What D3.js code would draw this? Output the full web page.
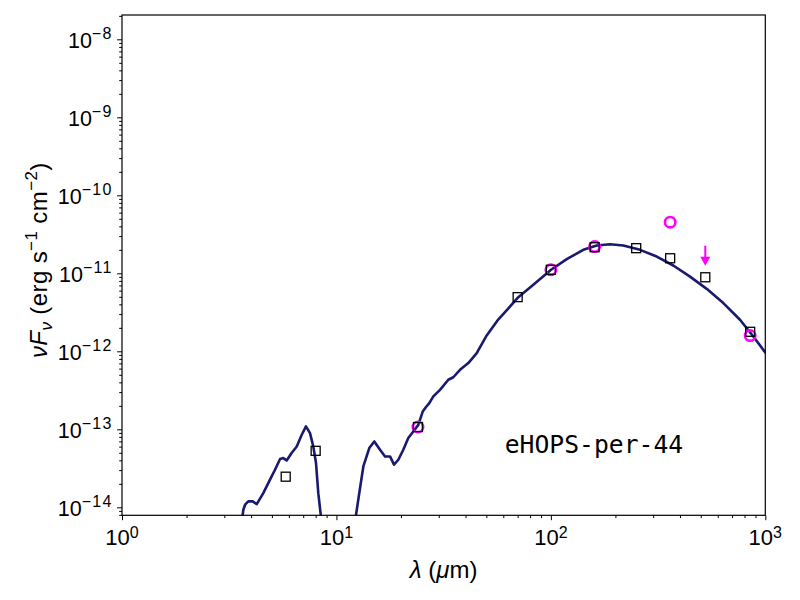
<!DOCTYPE html>
<html><head><meta charset="utf-8">
<script src="https://cdn.jsdelivr.net/npm/d3@7"></script>
<style>body{margin:0;background:#fff} svg{display:block}</style>
</head><body><svg id="c" width="800" height="600"></svg>
<script>
// ---- data ----
const modelWave = [3.53, 3.68, 3.75, 3.88, 4.07, 4.25, 4.56, 4.90, 5.17, 5.46, 5.65, 5.86, 6.18, 6.53, 6.89, 7.21, 7.53, 7.80, 8.03, 8.23, 8.45, 8.57,
  9.5, 11.0,
  12.14, 12.34, 12.78, 13.35, 14.23, 15.02, 15.97, 16.85, 17.78, 18.56, 19.44, 20.50, 21.63, 22.83, 24.09, 25.26, 26.17, 27.11, 28.30, 30.41,
  33.25, 35.08, 37.70, 41.21, 45.10, 50.21, 56.39, 62.78, 70.50, 82.83, 100.2, 118.6, 141.7, 163.6, 188.7, 217.7, 260.5, 311.6, 372.4,
  445.6, 533.1, 637.2, 762.1, 879.4, 1000, 1100];
const modelFlux = [3.8e-15, 9.3e-15, 1.08e-14, 1.19e-14, 1.19e-14, 1.10e-14, 1.52e-14, 2.26e-14, 3.03e-14, 4.16e-14, 4.28e-14, 3.99e-14, 4.97e-14,
  6.03e-14, 8.51e-14, 1.09e-13, 8.95e-14, 6.03e-14, 3.70e-14, 1.52e-14, 8.0e-15, 3.8e-15,
  1e-16, 1e-16,
  3.8e-15, 8.0e-15, 1.52e-14, 3.34e-14, 5.75e-14, 6.98e-14, 5.47e-14, 4.49e-14, 4.49e-14, 3.52e-14, 4.07e-14, 5.47e-14, 7.73e-14, 9.38e-14,
  1.14e-13, 1.69e-13, 1.93e-13, 2.17e-13, 2.64e-13, 3.21e-13, 4.32e-13, 4.65e-13, 5.80e-13, 7.06e-13, 9.48e-13, 1.60e-12, 2.49e-12, 3.45e-12,
  4.94e-12, 7.11e-12, 1.11e-11, 1.52e-11, 2.00e-11, 2.27e-11, 2.36e-11, 2.27e-11, 2.00e-11, 1.64e-11, 1.26e-11, 9.08e-12, 6.32e-12, 4.15e-12,
  2.54e-12, 1.55e-12, 9.66e-13, 7.5e-13];
const squareWave = [5.8, 8.0, 24, 70, 100, 160, 250, 360, 525, 850];
const squareFlux = [2.47e-14, 5.3e-14, 1.07e-13, 4.95e-12, 1.11e-11, 2.16e-11, 2.1e-11, 1.56e-11, 8.9e-12, 1.78e-12];
const circleWave = [24, 100, 160, 360, 850];
const circleFlux = [1.07e-13, 1.11e-11, 2.2e-11, 4.52e-11, 1.59e-12];
const limitWave = [525];
const limitFlux = [2.25e-11];
const xTickExp = [0, 1, 2, 3];
const yTickExp = [-14, -13, -12, -11, -10, -9, -8];
const sourceName = "eHOPS-per-44";
const xDomain = [1, 1000];
const yDomain = [7.9e-15, 2.05e-8];

// ---- layout ----
const L = 122, T = 15, R = 765.3, B = 515.3;
const svg = d3.select("#c");
const x = d3.scaleLog().domain(xDomain).range([L, R]);
const y = d3.scaleLog().domain(yDomain).range([B, T]);
const font = "'Liberation Sans', Arial, Helvetica, sans-serif";

svg.append("defs").append("clipPath").attr("id", "clip")
  .append("rect").attr("x", L).attr("y", T).attr("width", R - L).attr("height", B - T);

const g = svg.append("g").attr("clip-path", "url(#clip)");

// model
const model = modelWave.map((w, i) => [w, modelFlux[i]]);
g.append("path").datum(model)
  .attr("fill", "none").attr("stroke", "#191970").attr("stroke-width", 2.6)
  .attr("stroke-linejoin", "round")
  .attr("d", d3.line().x(d => x(d[0])).y(d => y(d[1])));

// circles
g.selectAll("circle.c").data(circleWave.map((w, i) => [w, circleFlux[i]])).join("circle")
  .attr("cx", d => x(d[0])).attr("cy", d => y(d[1])).attr("r", 5.2)
  .attr("fill", "none").attr("stroke", "#ff00ff").attr("stroke-width", 2.6);

// squares
const s = 9;
g.selectAll("rect.s").data(squareWave.map((w, i) => [w, squareFlux[i]])).join("rect")
  .attr("x", d => x(d[0]) - s / 2).attr("y", d => y(d[1]) - s / 2)
  .attr("width", s).attr("height", s)
  .attr("fill", "none").attr("stroke", "#000").attr("stroke-width", 1.3);

// upper limit arrows
limitWave.forEach((w, i) => {
  const cx = x(w), cy = y(limitFlux[i]);
  g.append("line").attr("x1", cx).attr("x2", cx).attr("y1", cy).attr("y2", cy + 13)
    .attr("stroke", "#ff00ff").attr("stroke-width", 2);
  g.append("path").attr("d", `M${cx - 5},${cy + 11}L${cx + 5},${cy + 11}L${cx},${cy + 20}Z`)
    .attr("fill", "#ff00ff");
});

// axes
const minor = [];
for (let e = -16; e <= 4; e++) for (let m = 2; m <= 9; m++) minor.push(m * Math.pow(10, e));
const xMinor = minor.filter(v => v > xDomain[0] && v < xDomain[1]);
const yMinor = minor.filter(v => v > yDomain[0] && v < yDomain[1]);

const xAx = svg.append("g").attr("transform", `translate(0,${B})`);
xAx.call(d3.axisBottom(x).tickValues(xTickExp.map(e => Math.pow(10, e))).tickFormat("").tickSize(4.9).tickSizeOuter(0));
xAx.append("g").call(d3.axisBottom(x).tickValues(xMinor).tickFormat("").tickSize(2.8).tickSizeOuter(0));
const yAx = svg.append("g").attr("transform", `translate(${L},0)`);
yAx.call(d3.axisLeft(y).tickValues(yTickExp.map(e => Math.pow(10, e))).tickFormat("").tickSize(4.9).tickSizeOuter(0));
yAx.append("g").call(d3.axisLeft(y).tickValues(yMinor).tickFormat("").tickSize(2.8).tickSizeOuter(0));
svg.selectAll(".domain").remove();
svg.selectAll(".tick line").attr("stroke", "#000").attr("stroke-width", 1);

// frame
svg.append("rect").attr("x", L).attr("y", T).attr("width", R - L).attr("height", B - T)
  .attr("fill", "none").attr("stroke", "#000").attr("stroke-width", 1.2);

// tick labels
const fmtExp = e => (e < 0 ? "\u2212" + (-e) : String(e));
xTickExp.forEach(e => {
  const t = svg.append("text").attr("x", x(Math.pow(10, e))).attr("y", 545)
    .attr("text-anchor", "middle").attr("font-family", font).attr("font-size", 22);
  t.append("tspan").text("10");
  t.append("tspan").attr("dy", -7).attr("font-size", 16).text(fmtExp(e));
});
yTickExp.forEach(e => {
  const t = svg.append("text").attr("x", 112.5).attr("y", y(Math.pow(10, e)) + 8.5)
    .attr("text-anchor", "end").attr("font-family", font).attr("font-size", 21.5);
  t.append("tspan").text("10");
  t.append("tspan").attr("dy", -9).attr("font-size", 16).attr("letter-spacing", 1.2).text(fmtExp(e));
});

// axis labels
const xl = svg.append("text").attr("x", (L + R) / 2).attr("y", 578)
  .attr("text-anchor", "middle").attr("font-family", font).attr("font-size", 24);
xl.append("tspan").attr("font-style", "italic").text("\u03bb");
xl.append("tspan").text(" (");
xl.append("tspan").attr("font-style", "italic").text("\u03bc");
xl.append("tspan").text("m)");

const yl = svg.append("text").attr("transform", `translate(47,${(T + B) / 2 - 5}) rotate(-90)`)
  .attr("text-anchor", "middle").attr("font-family", font).attr("font-size", 24)
  .attr("letter-spacing", 0.4);
yl.append("tspan").attr("font-style", "italic").text("\u03bdF");
yl.append("tspan").attr("font-style", "italic").attr("font-size", 17).attr("dy", 5).text("\u03bd");
yl.append("tspan").attr("dy", -5).text(" (erg s");
yl.append("tspan").attr("font-size", 17).attr("dy", -10).text("\u22121");
yl.append("tspan").attr("dy", 10).text(" cm");
yl.append("tspan").attr("font-size", 17).attr("dy", -10).text("\u22122");
yl.append("tspan").attr("dy", 10).text(")");

// source name
svg.append("text").attr("x", L + 0.595 * (R - L)).attr("y", T + 0.875 * (B - T))
  .attr("font-family", "'DejaVu Sans Mono', monospace").attr("font-size", 24.7)
  .text(sourceName);
</script></body></html>
